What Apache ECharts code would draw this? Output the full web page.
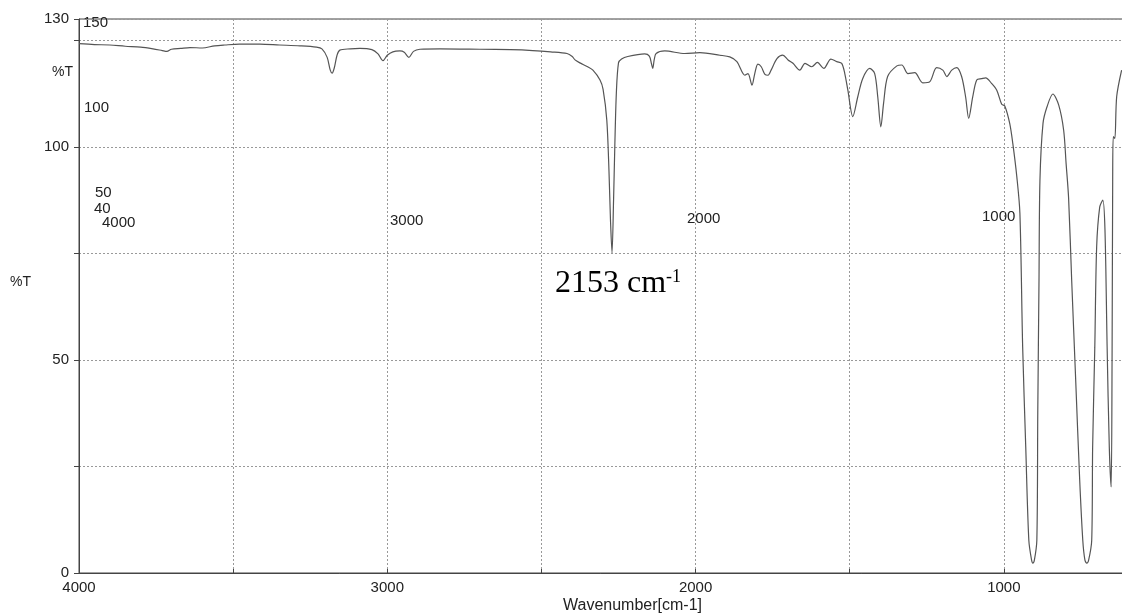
<!DOCTYPE html>
<html>
<head>
<meta charset="utf-8">
<script src="https://cdn.jsdelivr.net/npm/echarts@6/dist/echarts.min.js"></script>
<style>
  html, body { margin: 0; padding: 0; background: #fff; }
  #chart { width: 1122px; height: 616px; }
</style>
</head>
<body>
<div id="chart"></div>
<script>
// IR spectrum (wavenumber cm-1, %T)
var wavenumber = [
  4000, 3950, 3900, 3850, 3800, 3760, 3730, 3715, 3700, 3670, 3640, 3600, 3560, 3527, 3480, 3413, 3350, 3283,
  3230, 3212, 3195, 3185, 3179, 3172, 3163, 3154, 3120, 3089, 3050, 3030, 3014, 3000, 2982, 2959, 2945, 2930,
  2915, 2894, 2829, 2700, 2600, 2528, 2470, 2417, 2400, 2391, 2375, 2350, 2333, 2310, 2300, 2288, 2281, 2276,
  2271, 2266, 2262, 2257, 2250, 2240, 2220, 2165, 2150, 2143, 2139, 2134, 2128, 2100, 2035, 1986, 1921, 1889,
  1866, 1840, 1830, 1817, 1808, 1798, 1787, 1775, 1765, 1755, 1736, 1717, 1700, 1684, 1662, 1645, 1623, 1605,
  1584, 1561, 1542, 1526, 1516, 1506, 1490, 1474, 1458, 1435, 1419, 1409, 1399, 1390, 1377, 1347, 1331, 1311,
  1289, 1263, 1240, 1218, 1198, 1185, 1169, 1153, 1137, 1124, 1114, 1101, 1088, 1072, 1059, 1040, 1023, 1007,
  997, 981, 971, 958, 948, 939, 929, 919, 910, 906, 901, 893, 890, 886, 883, 873, 860, 841, 822, 806, 798, 790,
  780, 767, 754, 744, 737, 731, 725, 715, 712, 705, 699, 689, 679, 672, 665, 658, 652, 649, 647, 645, 640, 634, 618
];
var transmittance = [
  124.2, 124.0, 123.9, 123.6, 123.4, 123.0, 122.6, 122.4, 122.9, 123.1, 123.3, 123.2, 123.7, 123.9, 124.1, 124.1, 123.9, 123.7,
  123.4, 123.0, 121.0, 118.0, 117.3, 118.5, 121.5, 122.7, 123.0, 123.1, 122.8, 121.8, 120.2, 121.5, 122.3, 122.5, 122.2, 121.0,
  122.4, 122.9, 123.0, 122.9, 122.8, 122.6, 122.3, 121.9, 121.2, 120.4, 119.7, 118.8, 118.0, 115.7, 113.5, 106.3, 94.6, 82.8,
  75.1, 87.5, 100.0, 112.6, 119.7, 120.6, 121.2, 121.8, 121.3, 119.5, 118.4, 120.5, 121.9, 122.5, 121.9, 122.1, 121.5, 121.1,
  120.0, 116.8, 117.2, 114.5, 117.2, 119.4, 118.8, 117.0, 116.8, 118.0, 120.7, 121.5, 120.4, 119.6, 118.0, 119.6, 118.8, 119.8,
  118.4, 120.6, 120.0, 119.6, 117.2, 113.3, 107.1, 111.7, 116.0, 118.4, 117.2, 111.7, 104.7, 110.3, 116.5, 119.0, 119.2, 117.2,
  117.4, 115.0, 115.3, 118.6, 118.0, 116.5, 118.0, 118.6, 116.5, 111.7, 106.7, 111.7, 115.7, 116.0, 116.2, 114.9, 113.3, 110.0,
  109.6, 105.5, 100.8, 93.0, 84.5, 53.0, 29.6, 7.7, 3.0, 2.3, 3.0, 7.7, 37.5, 68.7, 92.0, 105.5, 109.4, 112.4, 109.8, 103.9, 96.0, 88.0,
  68.7, 45.3, 21.8, 7.7, 3.0, 2.3, 3.0, 7.7, 29.6, 53.0, 76.5, 85.9, 87.5, 80.5, 53.0, 29.6, 20.2, 50.0, 92.0, 102.4, 102.0, 111.8, 118.0
];
var xLabelValues = [4000, 3000, 2000, 1000];
var yLabelValues = [0, 50, 100, 130];

var chart = echarts.init(document.getElementById('chart'));
var font = '"Liberation Sans", Arial, sans-serif';

var points = [];
for (var i = 0; i < wavenumber.length; i++) {
  points.push([wavenumber[i], transmittance[i]]);
}

// plain text placed on the canvas (stray scale numbers of the chart paper, titles)
function txt(x, y, s, size) {
  return {
    type: 'text', left: x, top: y, silent: true,
    style: { text: s, fontFamily: font, fontSize: size || 15, fill: '#222' }
  };
}

var option = {
  backgroundColor: '#fff',
  animation: false,
  grid: {
    left: 79, right: -36, top: 19, bottom: 43,
    outerBoundsMode: 'none',
    show: true, borderColor: '#444', borderWidth: 1
  },
  xAxis: {
    type: 'value',
    inverse: true,
    min: 500,
    max: 4000,
    interval: 500,
    axisLine: { lineStyle: { color: '#444', width: 1 } },
    axisTick: { inside: true, length: 4, lineStyle: { color: '#444' } },
    axisLabel: {
      fontFamily: font, fontSize: 15, color: '#222', margin: 7,
      formatter: function (v) { return xLabelValues.indexOf(v) >= 0 ? String(v) : ''; }
    },
    splitLine: { show: true, lineStyle: { color: '#999', type: [2, 2], width: 1 } }
  },
  yAxis: {
    type: 'value',
    min: 0,
    max: 130,
    interval: 25,
    axisLine: { show: true, lineStyle: { color: '#444', width: 1 } },
    axisTick: { show: true, length: 5, lineStyle: { color: '#444' } },
    axisLabel: {
      fontFamily: font, fontSize: 15, color: '#222', margin: 10,
      formatter: function (v) { return yLabelValues.indexOf(v) >= 0 ? String(v) : ''; }
    },
    splitLine: { show: true, lineStyle: { color: '#999', type: [2, 2], width: 1 } }
  },
  graphic: [
    txt(563, 598, 'Wavenumber[cm-1]', 16),
    txt(10, 275, '%T', 14),
    txt(83, 15, '150'),
    txt(52, 65, '%T', 14),
    txt(84, 100, '100'),
    txt(95, 185, '50'),
    txt(94, 201, '40'),
    txt(102, 215, '4000'),
    txt(390, 213, '3000'),
    txt(687, 211, '2000'),
    txt(982, 209, '1000'),
    {
      type: 'text', left: 555, top: 268, silent: true,
      style: {
        text: '{a|2153 cm}{s|-1}',
        rich: {
          a: { fontFamily: '"Liberation Serif", "Times New Roman", serif', fontSize: 32, fill: '#000' },
          s: { fontFamily: '"Liberation Serif", "Times New Roman", serif', fontSize: 18, fill: '#000',
               verticalAlign: 'top' }
        }
      }
    }
  ],
  series: [
    {
      type: 'line',
      data: points,
      showSymbol: false,
      smooth: 0.3,
      lineStyle: { color: '#555', width: 1.2 },
      z: 3
    }
  ]
};
chart.setOption(option);
</script>
</body>
</html>
